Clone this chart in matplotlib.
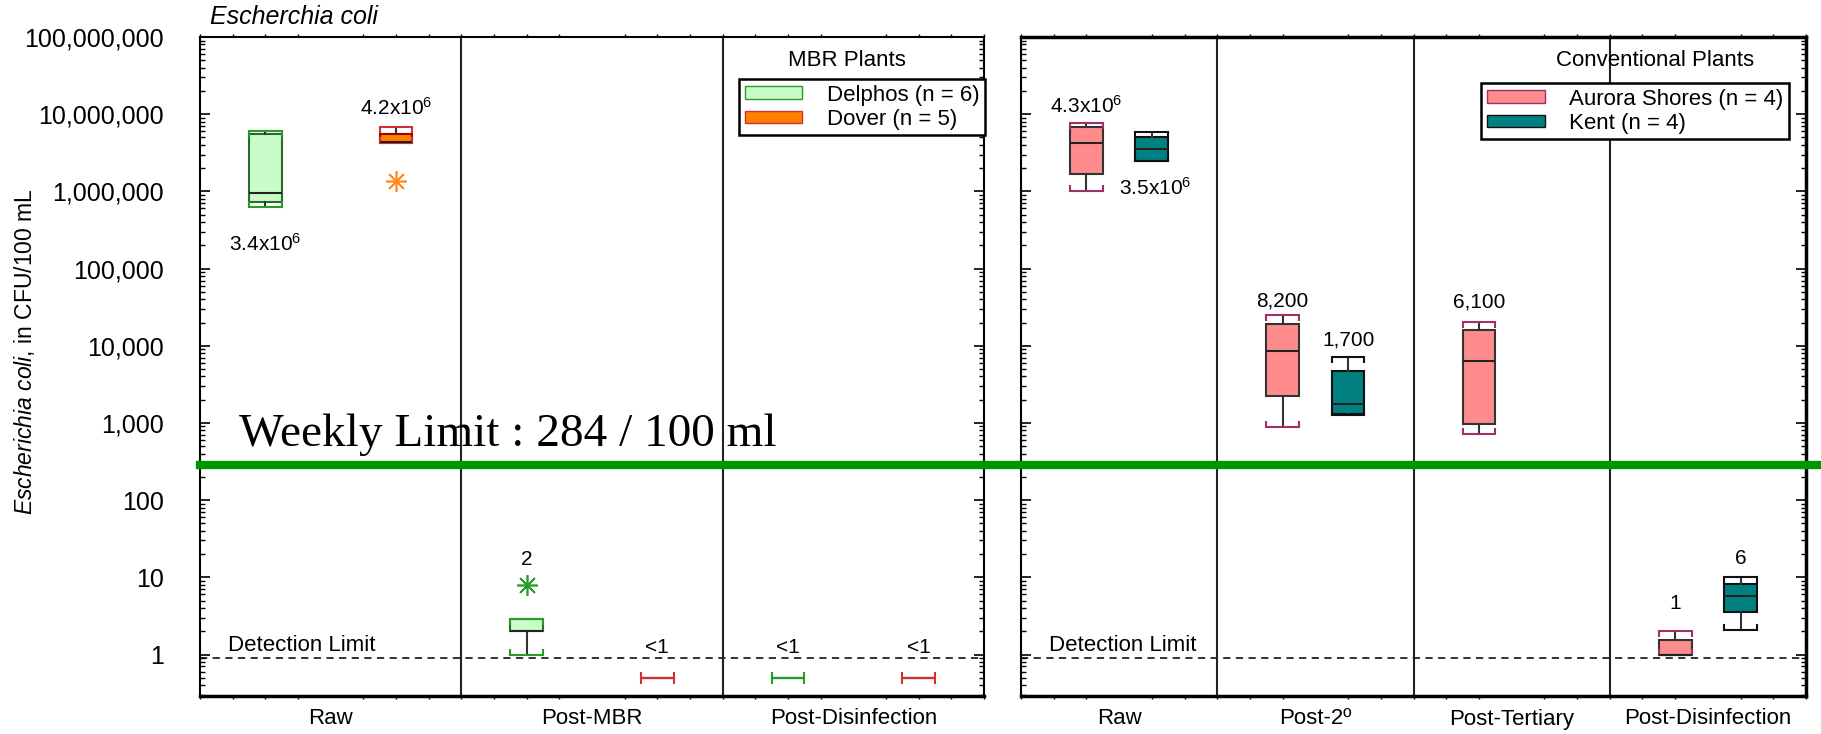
import numpy as np
import matplotlib.pyplot as plt
from matplotlib.patches import Patch
from matplotlib.lines import Line2D
from matplotlib import transforms
from matplotlib.ticker import LogLocator, FixedLocator, FuncFormatter, NullFormatter, MultipleLocator

plt.rcParams['font.family'] = ['Liberation Sans', 'DejaVu Sans']
plt.rcParams['mathtext.fontset'] = 'custom'
plt.rcParams['mathtext.rm'] = 'Liberation Sans'
plt.rcParams['mathtext.it'] = 'Liberation Sans:italic'

# five-number summaries: whisker low, q1, median, q3, whisker high (CFU/100 mL)
# values < 1 are plotted at 0.5
left_cats = ['Raw', 'Post-MBR', 'Post-Disinfection']
delphos = [[6.2e5, 7.2e5, 9.5e5, 5.6e6, 5.97e6], [1.0, 2.0, 2.0, 2.9, 2.9], [0.5, 0.5, 0.5, 0.5, 0.5]]
delphos_fliers = [[], [8.0], []]
dover = [[4.2e6, 4.2e6, 4.4e6, 5.5e6, 6.9e6], [0.5, 0.5, 0.5, 0.5, 0.5], [0.5, 0.5, 0.5, 0.5, 0.5]]
dover_fliers = [[1.35e6], [], []]
left_labels_delphos = ['3.4x10$^6$', '2', '<1']
left_labels_dover = ['4.2x10$^6$', '<1', '<1']

right_cats = ['Raw', 'Post-2º', 'Post-Tertiary', 'Post-Disinfection']
aurora = [[1.0e6, 1.7e6, 4.2e6, 6.8e6, 7.7e6], [885, 2210, 8440, 19300, 24700],
          [725, 980, 6320, 15800, 20200], [1.0, 1.0, 1.0, 1.53, 2.03]]
kent = [[2.45e6, 2.45e6, 3.5e6, 5.0e6, 5.8e6], [1250, 1320, 1780, 4660, 7120],
        None, [2.07, 3.6, 5.7, 8.2, 10.1]]
right_labels_aurora = ['4.3x10$^6$', '8,200', '6,100', '1']
right_labels_kent = ['3.5x10$^6$', '1,700', None, '6']

y_ticks = [1, 10, 100, 1e3, 1e4, 1e5, 1e6, 1e7, 1e8]
weekly_limit = 284
detection_limit = 0.9

W, H = 1821, 734
fig = plt.figure(figsize=(W / 100, H / 100), dpi=100)
ax1 = fig.add_axes([200 / W, 38 / H, 784 / W, 659 / H])
ax2 = fig.add_axes([1021 / W, 38 / H, 785 / W, 659 / H])


def draw(ax, pos, summaries, fliers, face, edge, capc, fcol):
    items = [(p, s, f) for p, s, f in zip(pos, summaries, fliers) if s is not None]
    stats = [dict(whislo=s[0], q1=s[1], med=s[2], q3=s[3], whishi=s[4], fliers=f) for _, s, f in items]
    res = ax.bxp(stats, positions=[p for p, _, _ in items], widths=1.0, capwidths=1.0,
                 patch_artist=True, showfliers=True, manage_ticks=False,
                 boxprops=dict(facecolor=face, edgecolor=edge, lw=1.5),
                 medianprops=dict(color='#222222', lw=1.5),
                 whiskerprops=dict(color='#333333', lw=1.5),
                 capprops=dict(color=capc, lw=1.5),
                 flierprops=dict(marker=(8, 2, 0), markersize=15, markeredgecolor=fcol,
                                 markerfacecolor=fcol, markeredgewidth=1.2))
    for (p, s, _), box, med in zip(items, res['boxes'], res['medians']):
        if s[1] == s[3]:
            box.set_edgecolor(capc)
            med.set_color(capc)
        ax.plot([p - 0.5, p + 0.5], [s[4]] * 2, ls='none', marker=3, ms=4, mec=capc, mew=1.5)
        ax.plot([p - 0.5, p + 0.5], [s[0]] * 2, ls='none', marker=2, ms=4, mec=capc, mew=1.5)


def style(ax, ncat, width, labels, show_y):
    ax.set_yscale('log')
    ax.set_ylim(0.29, 1e8)
    ax.set_xlim(0, ncat * width)
    ax.yaxis.set_major_locator(FixedLocator(y_ticks))
    ax.yaxis.set_minor_locator(LogLocator(base=10, subs=np.arange(2, 10), numticks=20))
    ax.yaxis.set_minor_formatter(NullFormatter())
    if show_y:
        ax.yaxis.set_major_formatter(FuncFormatter(lambda v, _: f'{v:,.0f}'))
    else:
        ax.yaxis.set_major_formatter(NullFormatter())
    ax.tick_params(axis='y', which='major', direction='in', length=7, width=1.2,
                   left=True, right=True, labelsize=18, pad=26)
    ax.tick_params(axis='y', which='minor', direction='in', length=3.5, width=1,
                   left=True, right=True)
    ax.set_xticks([width * (i + 0.5) for i in range(ncat)])
    ax.set_xticklabels(labels)
    ax.xaxis.set_minor_locator(MultipleLocator(1))
    ax.tick_params(axis='x', which='major', length=0, labelsize=16, pad=9)
    ax.tick_params(axis='x', which='minor', direction='out', length=2.5, width=1, top=True)
    for i in range(1, ncat):
        ax.axvline(width * i, color='#222222', lw=1.5, zorder=1)
    ax.axhline(detection_limit, color='#222222', lw=1.3, ls=(0, (4, 3)), zorder=1)
    ax.text(0.85, 1.3, 'Detection Limit', fontsize=16, ha='left', va='center')
    for side in ['top', 'left', 'right']:
        ax.spines[side].set_linewidth(1.5)
    ax.spines['bottom'].set_linewidth(2.5)


draw(ax1, [2, 10, 18], delphos, delphos_fliers, '#c8fcc8', '#2a6a2a', '#2a9a2a', '#2a9a2a')
draw(ax1, [6, 14, 22], dover, dover_fliers, '#ff8000', '#a00000', '#d03030', '#ff8c1a')
draw(ax2, [2, 8, 14, 20], aurora, [[]] * 4, '#ff8c8c', '#333333', '#a0306a', '#a0306a')
draw(ax2, [4, 10, 16, 22], kent, [[]] * 4, '#008080', '#111111', '#111111', '#111111')

style(ax1, 3, 8, left_cats, True)
style(ax2, 4, 6, right_cats, False)
ax2.spines['top'].set_linewidth(2.5)
ax2.spines['right'].set_linewidth(2.5)

# value labels
for x, y, t in zip([2, 10, 18], [2.1e5, 16.8, 1.25], left_labels_delphos):
    ax1.text(x, y, t, ha='center', va='center', fontsize=15)
for x, y, t in zip([6, 14, 22], [1.2e7, 1.25, 1.25], left_labels_dover):
    ax1.text(x, y, t, ha='center', va='center', fontsize=15)
for x, y, t in zip([2, 8, 14, 20], [1.29e7, 38500, 36600, 4.6], right_labels_aurora):
    ax2.text(x, y, t, ha='center', va='center', fontsize=15)
for x, y, t in zip([4.1, 10, 16, 22], [1.12e6, 11700, None, 17.7], right_labels_kent):
    if t is not None:
        ax2.text(x, y, t, ha='center', va='center', fontsize=15)

# legends
h1 = [Patch(facecolor='#c8fcc8', edgecolor='#2a9a2a', label='Delphos (n = 6)'),
      Patch(facecolor='#ff8000', edgecolor='#d03030', label='Dover (n = 5)')]
ax1.legend(handles=h1, loc='upper right', bbox_to_anchor=(985 / W, 1 - 79 / H),
           bbox_transform=fig.transFigure, borderaxespad=0, fontsize=16, fancybox=False,
           edgecolor='black', framealpha=1, handlelength=2.6, handleheight=0.5,
           handletextpad=1.1, labelspacing=0.15, borderpad=0.25)
ax1.get_legend().get_frame().set_linewidth(1.8)
h2 = [Patch(facecolor='#ff8c8c', edgecolor='#a0306a', label='Aurora Shores (n = 4)'),
      Patch(facecolor='#008080', edgecolor='#111111', label='Kent (n = 4)')]
ax2.legend(handles=h2, loc='upper right', bbox_to_anchor=(1789 / W, 1 - 83 / H),
           bbox_transform=fig.transFigure, borderaxespad=0, fontsize=16, fancybox=False,
           edgecolor='black', framealpha=1, handlelength=2.6, handleheight=0.5,
           handletextpad=1.1, labelspacing=0.15, borderpad=0.25)
ax2.get_legend().get_frame().set_linewidth(1.8)
fig.text(847 / W, 1 - 60 / H, 'MBR Plants', ha='center', va='center', fontsize=16)
fig.text(1655 / W, 1 - 60 / H, 'Conventional Plants', ha='center', va='center', fontsize=16)

# titles
fig.text(210 / W, 1 - 17 / H, 'Escherchia coli', style='italic', ha='left', va='center', fontsize=18)
fig.text(25 / W, 1 - 352 / H, r'$\mathit{Escherichia\ coli}$, in CFU/100 mL', rotation=90,
         ha='center', va='center', fontsize=16.5)

# weekly limit across both panels
tr = transforms.blended_transform_factory(fig.transFigure, ax1.transData)
fig.add_artist(Line2D([200 / W, 1.0], [weekly_limit, weekly_limit], transform=tr,
                      color='#009600', lw=6, zorder=10))
ax1.text(1.2, 500, f'Weekly Limit : {weekly_limit} / 100 ml', family='Liberation Serif',
         fontsize=34, ha='left', va='baseline')

fig.savefig('out.png', dpi=100)
